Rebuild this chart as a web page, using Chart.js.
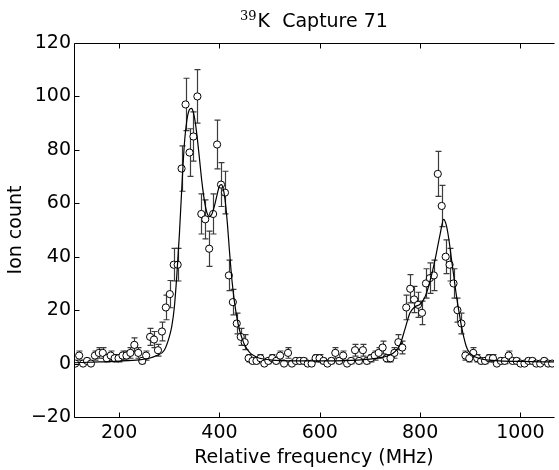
<!DOCTYPE html>
<html lang="en">
<head>
  <meta charset="UTF-8">
  <title>39K Capture 71</title>
  <script src="https://cdn.jsdelivr.net/npm/chart.js"></script>
  <style>
    html, body { margin: 0; padding: 0; background: #fff; }
    .chart-container { position: relative; width: 559px; height: 470px; }
  </style>
</head>
<body>
  <div class="chart-container">
    <canvas id="captureChart" width="559" height="470"></canvas>
  </div>

  <script>
    // measured points (MHz, ion counts, error)
    const freq = [
      112.4, 120.3, 128.1, 136.0, 143.8, 151.7, 159.5, 167.4, 175.3, 183.1,
      191.0, 198.8, 206.7, 214.5, 222.4, 230.3, 238.1, 246.0, 253.8, 261.7,
      269.5, 277.4, 285.3, 293.1, 301.0, 308.8, 316.7, 324.5, 332.4, 340.3,
      348.1, 356.0, 363.8, 371.7, 379.5, 387.4, 395.3, 403.1, 411.0, 418.8,
      426.7, 434.5, 442.4, 450.3, 458.1, 466.0, 473.8, 481.7, 489.5, 497.4,
      505.3, 513.1, 521.0, 528.8, 536.7, 544.5, 552.4, 560.3, 568.1, 576.0,
      583.8, 591.7, 599.5, 607.4, 615.3, 623.1, 631.0, 638.8, 646.7, 654.5,
      662.4, 670.3, 678.1, 686.0, 693.8, 701.7, 709.5, 717.4, 725.3, 733.1,
      741.0, 748.8, 756.7, 764.5, 772.4, 780.3, 788.1, 796.0, 803.8, 811.7,
      819.5, 827.4, 835.3, 843.1, 851.0, 858.8, 866.7, 874.5, 882.4, 890.3,
      898.1, 906.0, 913.8, 921.7, 929.5, 937.4, 945.3, 953.1, 961.0, 968.8,
      976.7, 984.5, 992.4, 1000.3, 1008.1, 1016.0, 1023.8, 1031.7, 1039.5, 1047.4,
      1055.3, 1063.2
    ];
    const counts = [
      0, 3, 0, 1, 0, 3, 4, 4, 2, 3,
      2, 2, 3, 3, 4, 7, 4, 1, 3, 10,
      9, 5, 12, 21, 26, 37, 37, 73, 97, 79,
      85, 100, 56, 54, 43, 56, 82, 67, 64, 33,
      23, 15, 10, 8, 2, 1, 1, 2, 0, 1,
      2, 1, 3, 0, 4, 0, 1, 1, 1, 0,
      0, 2, 2, 1, 0, 1, 4, 1, 3, 0,
      1, 5, 1, 5, 1, 2, 3, 4, 6, 2,
      2, 4, 8, 6, 21, 28, 24, 22, 19, 30,
      32, 33, 71, 59, 40, 37, 30, 20, 15, 3,
      2, 4, 2, 1, 1, 2, 2, 0, 1, 1,
      3, 1, 1, 0, 0, 1, 1, 0, 0, 1,
      0, 0
    ];
    const errors = [
      0, 1.7, 0, 1, 0, 1.7, 2, 2, 1.4, 1.7,
      1.4, 1.4, 1.7, 1.7, 2, 2.6, 2, 1, 1.7, 3.2,
      3, 2.2, 3.5, 4.6, 5.1, 6.1, 6.1, 8.5, 9.8, 8.9,
      9.2, 10, 7.5, 7.3, 6.6, 7.5, 9.1, 8.2, 8, 5.7,
      4.8, 3.9, 3.2, 2.8, 1.4, 1, 1, 1.4, 0, 1,
      1.4, 1, 1.7, 0, 2, 0, 1, 1, 1, 0,
      0, 1.4, 1.4, 1, 0, 1, 2, 1, 1.7, 0,
      1, 2.2, 1, 2.2, 1, 1.4, 1.7, 2, 2.4, 1.4,
      1.4, 2, 2.8, 2.4, 4.6, 5.3, 4.9, 4.7, 4.4, 5.5,
      5.7, 5.7, 8.4, 7.7, 6.3, 6.1, 5.5, 4.5, 3.9, 1.7,
      1.4, 2, 1.4, 1, 1, 1.4, 1.4, 0, 1, 1,
      1.7, 1, 1, 0, 0, 1, 1, 0, 0, 1,
      0, 0
    ];

    // fitted curve
    const fitFreq = [
      110, 160, 200, 240, 260, 275, 290, 300, 305, 310,
      315, 320, 325, 330, 335, 340, 344, 348, 352, 356,
      360, 365, 370, 375, 380, 385, 390, 395, 400, 404,
      408, 412, 416, 420, 425, 430, 435, 440, 445, 450,
      460, 470, 480, 500, 550, 600, 650, 700, 720, 740,
      750, 760, 770, 780, 790, 800, 810, 820, 830, 840,
      847, 852, 857, 862, 867, 872, 877, 882, 887, 892,
      897, 905, 920, 950, 1000, 1067
    ];
    const fitCounts = [
      0.3, 0.6, 0.9, 1.4, 2, 3, 5, 10, 14, 21,
      33, 48, 66, 82, 91, 95, 95.5, 94, 90, 84,
      77, 68, 61, 56.5, 55, 56, 59, 63, 66.5, 67,
      65, 60, 52, 42, 31, 23, 17, 12.5, 9.5, 7,
      4.2, 2.8, 2, 1.4, 1, 1, 1.1, 1.7, 2.2, 3.2,
      4.5, 7, 13, 19, 21.3, 22.2, 25, 31, 39, 48.5,
      54, 52, 47, 40, 33, 26, 20, 14.5, 10, 6.5,
      4.5, 3, 1.8, 1.1, 0.8, 0.6
    ];

    const xTicks = [200, 400, 600, 800, 1000];
    const yTicks = [-20, 0, 20, 40, 60, 80, 100, 120];

    const fontFamily = '"DejaVu Sans", sans-serif';
    const tickFont = { family: fontFamily, size: 19 };

    // error bars under the markers
    const errorBarPlugin = {
      id: 'errorBars',
      beforeDatasetsDraw(chart) {
        const { ctx, chartArea, scales: { x, y } } = chart;
        ctx.save();
        ctx.beginPath();
        ctx.rect(chartArea.left, chartArea.top, chartArea.right - chartArea.left, chartArea.bottom - chartArea.top);
        ctx.clip();
        ctx.strokeStyle = '#3c3c3c';
        ctx.lineWidth = 1.2;
        for (let i = 0; i < counts.length; i++) {
          if (!errors[i]) continue;
          const px = Math.round(x.getPixelForValue(freq[i])) + 0.5;
          const top = y.getPixelForValue(counts[i] + errors[i]);
          const bot = y.getPixelForValue(counts[i] - errors[i]);
          ctx.beginPath();
          ctx.moveTo(px, top);
          ctx.lineTo(px, bot);
          ctx.moveTo(px - 3, top);
          ctx.lineTo(px + 3, top);
          ctx.moveTo(px - 3, bot);
          ctx.lineTo(px + 3, bot);
          ctx.stroke();
        }
        ctx.restore();
      }
    };

    // frame, inward ticks and title
    const framePlugin = {
      id: 'frame',
      afterDraw(chart) {
        const { ctx, chartArea, scales: { x, y } } = chart;
        const l = chartArea.left + 0.5, t = chartArea.top + 0.5;
        const r = chartArea.right + 0.5, b = chartArea.bottom + 0.5;
        ctx.save();
        ctx.strokeStyle = '#000';
        ctx.lineWidth = 1;
        ctx.beginPath();
        ctx.moveTo(r, t); ctx.lineTo(l, t); ctx.lineTo(l, b); ctx.lineTo(r, b);
        ctx.stroke();
        ctx.beginPath();
        xTicks.forEach(v => {
          const px = Math.round(x.getPixelForValue(v)) + 0.5;
          ctx.moveTo(px, b); ctx.lineTo(px, b - 5);
          ctx.moveTo(px, t); ctx.lineTo(px, t + 5);
        });
        yTicks.forEach(v => {
          const py = Math.round(y.getPixelForValue(v)) + 0.5;
          ctx.moveTo(l, py); ctx.lineTo(l + 5, py);
        });
        ctx.stroke();

        // title: superscript 39 then the rest
        const sup = '39', main = 'K  Capture 71';
        ctx.fillStyle = '#000';
        ctx.textBaseline = 'alphabetic';
        ctx.font = '13px "DejaVu Serif", serif';
        const wSup = ctx.measureText(sup).width;
        ctx.font = '19px ' + fontFamily;
        const wMain = ctx.measureText(main).width;
        const cx = 314;
        const x0 = cx - (wSup + 1 + wMain) / 2;
        const base = 27;
        ctx.font = '13px "DejaVu Serif", serif';
        ctx.fillText(sup, x0, base - 7);
        ctx.font = '19px ' + fontFamily;
        ctx.fillText(main, x0 + wSup + 1, base);
        ctx.restore();
      }
    };

    const ctx = document.getElementById('captureChart').getContext('2d');
    new Chart(ctx, {
      type: 'scatter',
      data: {
        datasets: [
          {
            label: 'Fit',
            type: 'line',
            data: fitFreq.map((f, i) => ({ x: f, y: fitCounts[i] })),
            borderColor: '#000',
            borderWidth: 1.2,
            pointRadius: 0,
            fill: false,
            cubicInterpolationMode: 'monotone',
            order: 0
          },
          {
            label: 'Data',
            data: freq.map((f, i) => ({ x: f, y: counts[i] })),
            pointRadius: 3.6,
            pointBackgroundColor: '#fff',
            pointBorderColor: '#000',
            pointBorderWidth: 1,
            order: 1
          }
        ]
      },
      options: {
        responsive: false,
        animation: false,
        devicePixelRatio: 1,
        layout: { padding: { top: 43, right: 0, bottom: 0, left: 0 } },
        plugins: {
          legend: { display: false },
          tooltip: { enabled: false },
          title: { display: false }
        },
        scales: {
          x: {
            type: 'linear',
            min: 110,
            max: 1067,
            afterBuildTicks: s => { s.ticks = xTicks.map(v => ({ value: v })); },
            afterFit: s => { s.height = 53; },
            grid: { display: false, drawTicks: false },
            border: { display: false },
            ticks: {
              font: tickFont,
              color: '#000',
              padding: 5,
              maxRotation: 0,
              callback: v => String(v)
            },
            title: {
              display: true,
              text: 'Relative frequency (MHz)',
              font: tickFont,
              color: '#000',
              padding: { top: 0, bottom: 1 }
            }
          },
          y: {
            min: -20,
            max: 120,
            afterBuildTicks: s => { s.ticks = yTicks.map(v => ({ value: v })); },
            afterFit: s => { s.width = 74; },
            grid: { display: false, drawTicks: false },
            border: { display: false },
            ticks: {
              font: tickFont,
              color: '#000',
              padding: 3,
              callback: v => String(v).replace('-', '\u2212')
            },
            title: {
              display: true,
              text: 'Ion count',
              font: tickFont,
              color: '#000',
              padding: { top: 5, bottom: 0 }
            }
          }
        }
      },
      plugins: [errorBarPlugin, framePlugin]
    });
  </script>
</body>
</html>
